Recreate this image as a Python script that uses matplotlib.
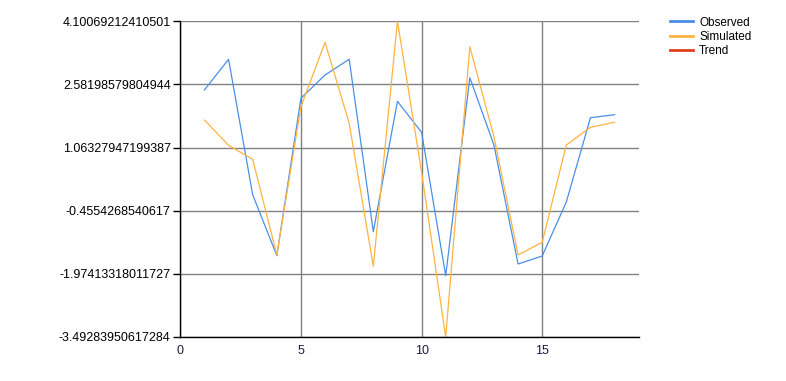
import numpy as np
import matplotlib
matplotlib.use("Agg")
import matplotlib.pyplot as plt

# data
steps = list(range(1, 19))
observed = [2.449, 3.187, -0.07, -1.537, 2.249, 2.809, 3.187, -0.96, 2.176,
            1.431, -2.018, 2.744, 1.125, -1.737, -1.545, -0.246, 1.782, 1.854]
simulated = [1.727, 1.118, 0.78, -1.52, 2.047, 3.596, 1.647, -1.79, 4.10069212410501,
             0.476, -3.49283950617284, 3.490, 1.325, -1.52, -1.215, 1.125, 1.551, 1.671]
trend = []

y_labels = ["-3.49283950617284", "-1.97413318011727", "-0.4554268540617",
            "1.06327947199387", "2.58198579804944", "4.10069212410501"]
x_ticks = [0, 5, 10, 15]

plt.rcParams["font.family"] = ["Liberation Sans", "DejaVu Sans"]

fig = plt.figure(figsize=(7.86, 3.81), dpi=100, facecolor="white")
ax = fig.add_axes([0.2294, 0.1155, 0.5832, 0.8286])

ymin, ymax = min(simulated), max(simulated)
yticks = np.linspace(ymin, ymax, len(y_labels))

ax.set_xlim(0, 19)
ax.set_ylim(ymin, ymax)
ax.set_yticks(yticks)
ax.set_yticklabels(y_labels)
ax.set_xticks(x_ticks)

ax.grid(True, color="#808080", linewidth=1.0)
ax.set_axisbelow(True)
for s in ["top", "right"]:
    ax.spines[s].set_visible(False)
for s in ["left", "bottom"]:
    ax.spines[s].set_linewidth(1.0)
    ax.spines[s].set_zorder(3)

ax.tick_params(axis="y", length=5, width=1, labelsize=9, pad=2)
ax.tick_params(axis="x", length=0, labelsize=9, pad=6, labelcolor="#1a1a40")

ax.plot(steps, observed, color="#4a8fe7", linewidth=0.9, label="Observed", clip_on=False)
ax.plot(steps, simulated, color="#ffb340", linewidth=0.9, label="Simulated", clip_on=False)
ax.plot(steps[:len(trend)], trend, color="#e0401c", linewidth=1.5, label="Trend")

leg = ax.legend(loc="upper left", bbox_to_anchor=(1.057, 1.03), frameon=False,
                fontsize=8.5, handlelength=2.0, handletextpad=0.5,
                labelspacing=0.18, borderaxespad=0)
for line in leg.get_lines():
    line.set_linewidth(2.0)

plt.savefig("out.png", dpi=100)
